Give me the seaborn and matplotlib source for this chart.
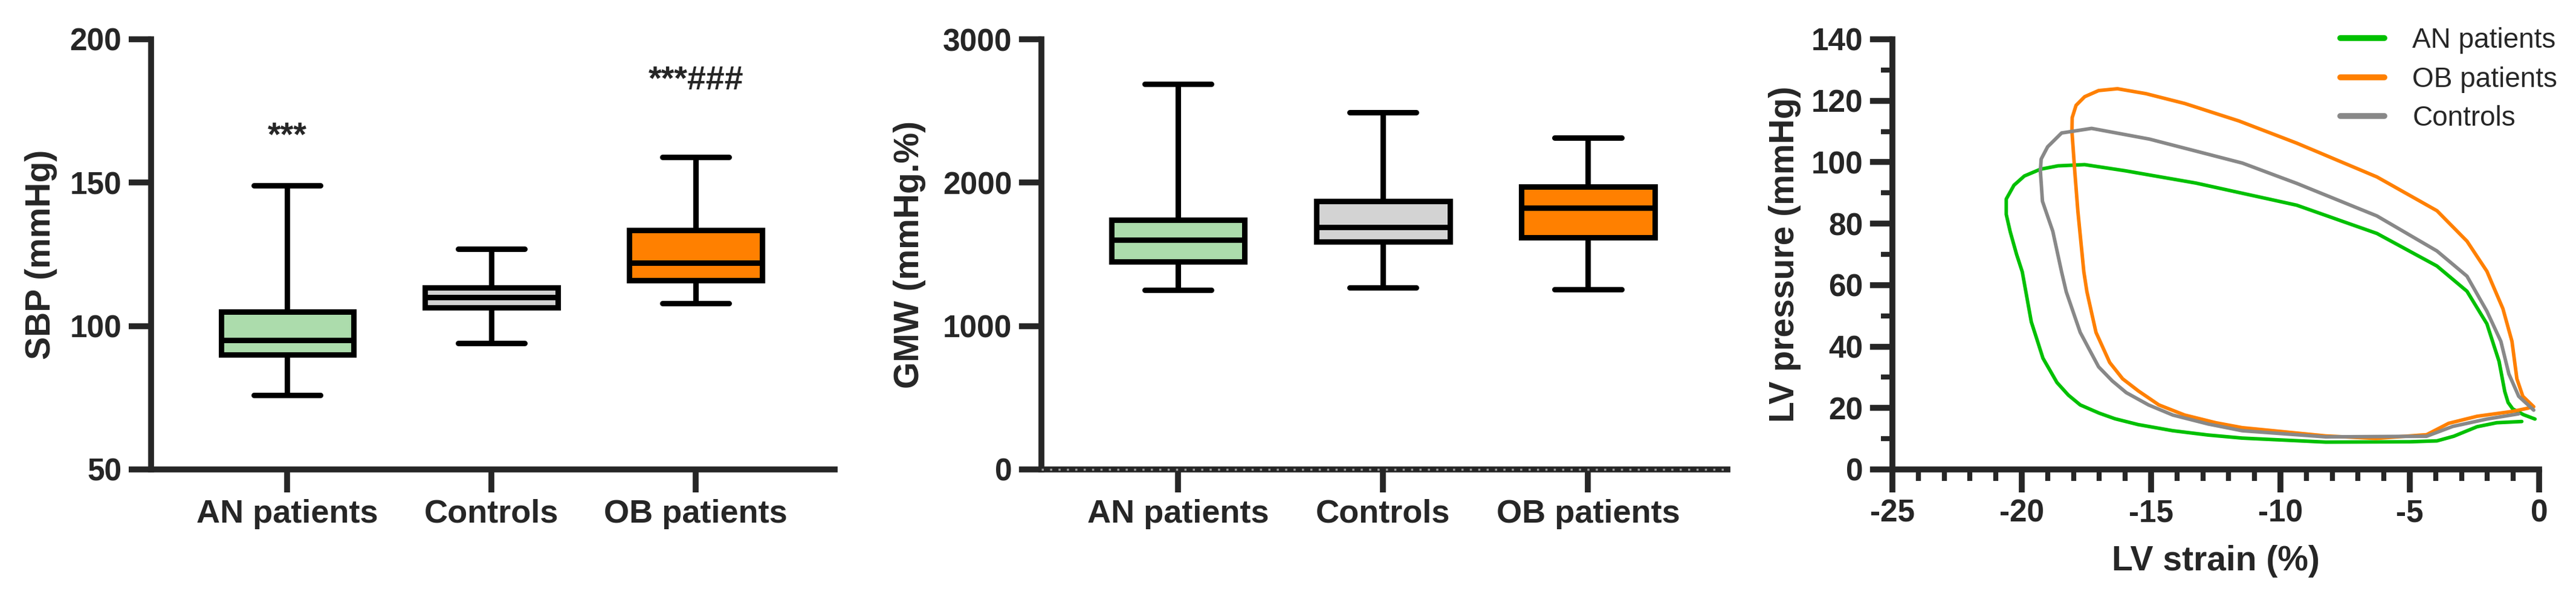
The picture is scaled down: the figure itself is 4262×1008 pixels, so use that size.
import numpy as np
import pandas as pd
import seaborn as sns
import matplotlib.pyplot as plt
from matplotlib.ticker import MultipleLocator

# groups and colours
groups = ["AN patients", "Controls", "OB patients"]
box_colors = ["#acdcac", "#d3d3d3", "#ff8000"]

# five-number summaries: min, Q1, median, Q3, max
sbp_an = [76, 90, 95, 105, 149]
sbp_ctrl = [94, 106.5, 110, 113.5, 127]
sbp_ob = [108, 116, 122, 133.5, 159]

gmw_an = [1250, 1450, 1600, 1740, 2690]
gmw_ctrl = [1270, 1590, 1690, 1870, 2490]
gmw_ob = [1255, 1620, 1825, 1970, 2315]

# pressure-strain loops (strain %, pressure mmHg)
an_strain = [-0.16, -0.6, -1.02, -1.2, -1.33, -1.55, -2.02, -2.79, -3.95, -6.27, -9.37, -13.27,
             -16.0, -17.57, -18.6, -19.28, -19.9, -20.3, -20.6, -20.6, -20.45, -20.2,
             -19.98, -19.63, -19.18, -18.64, -18.2, -17.74, -17.0, -16.4, -15.5, -14.16,
             -12.8, -11.48, -8.25, -5.0, -3.95, -3.3, -2.4, -1.64, -0.67]
an_pressure = [16.4, 17.8, 19.7, 21.8, 25.4, 35.2, 47.4, 58.0, 66.2, 76.8, 86.0, 93.2,
               97.2, 99.2, 98.8, 97.7, 95.5, 92.5, 88.0, 83.0, 77.5, 70.0,
               64.3, 48.0, 36.2, 28.3, 24.2, 21.0, 18.3, 16.5, 14.6, 12.6,
               11.2, 10.2, 8.9, 9.0, 9.3, 10.8, 13.9, 15.2, 15.6]

ob_strain = [-0.21, -0.63, -0.86, -1.05, -1.4, -2.02, -2.79, -3.95, -6.27, -9.37,
             -11.6, -13.7, -15.2, -16.3, -17.03, -17.57, -17.9, -18.05, -18.06, -17.95,
             -17.83, -17.6, -17.48, -17.13, -16.6, -16.1, -15.5, -14.7, -13.7, -12.5,
             -11.48, -8.25, -6.3, -4.35, -3.5, -2.4, -1.02, -0.4]
ob_pressure = [20.4, 23.8, 29.5, 41.7, 52.3, 64.5, 74.3, 84.2, 95.2, 106.2,
               113.4, 119.1, 122.3, 123.9, 123.3, 121.3, 118.5, 114.5, 110.0, 97.0,
               84.0, 64.3, 57.8, 44.6, 34.8, 29.5, 25.6, 21.0, 17.7, 15.2,
               13.6, 10.9, 10.1, 11.3, 15.0, 17.3, 18.9, 20.0]

ctrl_strain = [-0.21, -0.79, -1.17, -1.48, -2.02, -2.79, -3.95, -6.27, -9.37, -11.47,
               -15.06, -17.3, -18.46, -19.0, -19.25, -19.28, -19.2, -18.8, -18.46, -18.28,
               -17.74, -17.03, -16.5, -15.96, -15.1, -14.16, -12.8, -11.48, -8.25, -4.35,
               -3.34, -2.02, -0.79]
ctrl_pressure = [19.3, 23.8, 31.1, 41.7, 51.5, 62.9, 71.1, 82.5, 93.1, 99.7,
                 107.5, 111.0, 109.5, 105.0, 101.0, 97.1, 87.3, 77.5, 64.3, 57.8,
                 44.6, 33.4, 28.8, 25.0, 21.0, 17.7, 14.8, 12.6, 10.6, 10.8,
                 14.0, 16.4, 18.1]

loop_order = ["AN patients", "OB patients", "Controls"]
loop_colors = {"AN patients": "#00c000", "OB patients": "#ff8000", "Controls": "#888888"}

sbp = pd.DataFrame({"group": np.repeat(groups, 5), "value": sbp_an + sbp_ctrl + sbp_ob})
gmw = pd.DataFrame({"group": np.repeat(groups, 5), "value": gmw_an + gmw_ctrl + gmw_ob})
loops = pd.concat([
    pd.DataFrame({"strain": an_strain, "pressure": an_pressure, "group": "AN patients"}),
    pd.DataFrame({"strain": ob_strain, "pressure": ob_pressure, "group": "OB patients"}),
    pd.DataFrame({"strain": ctrl_strain, "pressure": ctrl_pressure, "group": "Controls"}),
])

sns.set_style("ticks")
plt.rcParams["font.family"] = ["Liberation Sans", "DejaVu Sans"]
plt.rcParams["axes.unicode_minus"] = False

W, H = 4262, 1008
fig = plt.figure(figsize=(W / 100, H / 100), dpi=100)
ax1 = fig.add_axes([250 / W, 1 - 777 / H, (1381 - 250) / W, 712 / H])
ax2 = fig.add_axes([1723 / W, 1 - 777 / H, (2858 - 1723) / W, 712 / H])
ax3 = fig.add_axes([3131 / W, 1 - 777 / H, (4201 - 3131) / W, 712 / H])

LW = 7
TICK = 37
LABEL = 41

for ax, df in ((ax1, sbp), (ax2, gmw)):
    sns.boxplot(data=df, x="group", y="value", hue="group", order=groups,
                palette=box_colors, saturation=1, whis=(0, 100), width=0.65,
                linewidth=6.5, linecolor="black", showfliers=False, legend=False, ax=ax)
    ax.set_xlim(-0.667, 2.68)
    ax.set_xlabel("")

ax1.set_ylim(50, 200)
ax1.set_yticks([50, 100, 150, 200])
ax1.set_ylabel("SBP (mmHg)", fontsize=LABEL, fontweight="bold", labelpad=15)
ax1.text(0, 166, "***", ha="center", va="center", fontsize=40, fontweight="bold")
ax1.text(2, 185.5, "***###", ha="center", va="center", fontsize=40, fontweight="bold")

ax2.set_ylim(0, 3000)
ax2.set_yticks([0, 1000, 2000, 3000])
ax2.set_ylabel("GMW (mmHg.%)", fontsize=LABEL, fontweight="bold", labelpad=20)
ax2.axhline(0, color="0.6", lw=2.5, ls=(0, (1, 3)), zorder=5, clip_on=False)

# loops
sns.lineplot(data=loops, x="strain", y="pressure", hue="group", hue_order=loop_order,
             palette=loop_colors, sort=False, estimator=None, linewidth=4.2, ax=ax3)
ax3.set_xlim(-25, 0)
ax3.set_ylim(0, 140)
ax3.xaxis.set_major_locator(MultipleLocator(5))
ax3.xaxis.set_minor_locator(MultipleLocator(1))
ax3.yaxis.set_major_locator(MultipleLocator(20))
ax3.yaxis.set_minor_locator(MultipleLocator(10))
ax3.set_xlabel("LV strain (%)", fontsize=LABEL, fontweight="bold", labelpad=20)
ax3.set_ylabel("LV pressure (mmHg)", fontsize=LABEL, fontweight="bold", labelpad=12)
ax3.tick_params(which="minor", length=14, width=6)
leg = ax3.legend(frameon=False, fontsize=33, handlelength=1.6, handletextpad=1.0,
                 labelspacing=0.45, loc="upper left", borderaxespad=0, borderpad=0,
                 bbox_to_anchor=(3872 / W, 1 - 45 / H), bbox_transform=fig.transFigure)
for line in leg.get_lines():
    line.set_linewidth(7)

for ax in (ax1, ax2, ax3):
    sns.despine(ax=ax)
    for side in ("left", "bottom"):
        ax.spines[side].set_linewidth(LW)
        ax.spines[side].set_capstyle("projecting")
    ax.tick_params(which="major", length=27, width=LW, labelsize=TICK, pad=8)
    for lab in ax.get_xticklabels() + ax.get_yticklabels():
        lab.set_fontweight("bold")

# category names are set a touch larger than the numbers
for ax in (ax1, ax2):
    for lab in ax.get_xticklabels():
        lab.set_fontsize(39)

fig.savefig("out.png", dpi=100)
